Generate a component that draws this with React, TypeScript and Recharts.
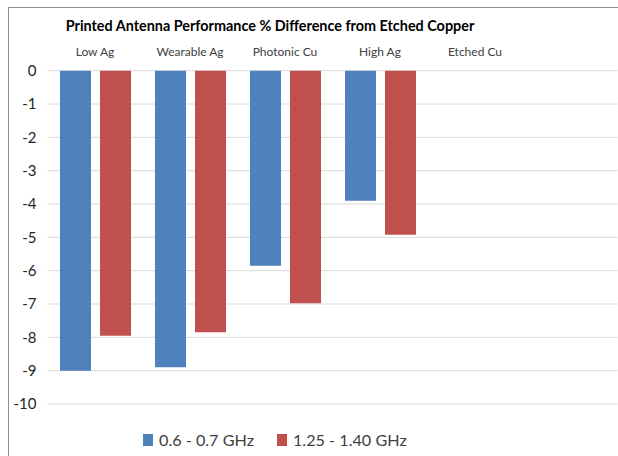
import React from "react";
import { BarChart, Bar, XAxis, YAxis, CartesianGrid, Legend } from "recharts";

const categories = ["Low Ag", "Wearable Ag", "Photonic Cu", "High Ag", "Etched Cu"];
const lowBand = [-9.0, -8.9, -5.85, -3.9, 0];
const highBand = [-7.95, -7.85, -6.98, -4.92, 0];
const yTicks = [0, -1, -2, -3, -4, -5, -6, -7, -8, -9, -10];
const seriesNames = ["0.6 - 0.7 GHz", "1.25 - 1.40 GHz"];
const seriesColors = ["#4F81BD", "#C0504D"];

const data = categories.map((c, i) => ({ name: c, low: lowBand[i], high: highBand[i] }));

const FONT = "Lato, 'Open Sans', sans-serif";

const LegendContent = () => (
  <div
    style={{
      height: 52,
      boxSizing: "border-box",
      paddingTop: 19,
      paddingLeft: 143,
      display: "flex",
      alignItems: "center",
      fontFamily: FONT,
      fontSize: 16.2,
      color: "#404040",
      lineHeight: "22px",
    }}
  >
    {seriesNames.map((n, i) => (
      <div key={n} style={{ display: "flex", alignItems: "center", marginRight: 23 }}>
        <div style={{ width: 10, height: 12, background: seriesColors[i], marginRight: 6 }} />
        <span>{n}</span>
      </div>
    ))}
  </div>
);

export default function App() {
  return (
    <div
      style={{
        position: "absolute",
        left: 0,
        top: 0,
        width: 618,
        height: 456,
        overflow: "hidden",
        background: "#fff",
      }}
    >
      <div
        style={{
          position: "absolute",
          left: 8,
          top: 7,
          width: 700,
          height: 600,
          borderLeft: "1px solid #8c8c8c",
          borderTop: "1px solid #8c8c8c",
        }}
      />
      <div
        style={{
          position: "absolute",
          left: 0,
          top: 15,
          width: 540,
          textAlign: "center",
          fontFamily: FONT,
          fontWeight: 700,
          fontSize: 14.4,
          color: "#000",
          lineHeight: "22px",
        }}
      >
        Printed Antenna Performance % Difference from Etched Copper
      </div>
      <div style={{ position: "absolute", left: 0, top: 0 }}>
        <BarChart
          width={620}
          height={456}
          data={data}
          margin={{ top: 40, right: 2.5, bottom: 0, left: 0 }}
          barCategoryGap={12.5}
          barGap={9}
        >
          <CartesianGrid vertical={false} stroke="#d9d9d9" strokeWidth={1} />
          <XAxis
            dataKey="name"
            orientation="top"
            height={30.7}
            axisLine={false}
            tickLine={false}
            tickSize={0}
            tickMargin={15}
            padding={{ left: 0, right: 95 }}
            interval={0}
            tick={{ fontSize: 12, fill: "#404040", fontFamily: FONT }}
          />
          <YAxis
            domain={[-10, 0]}
            ticks={yTicks}
            width={47.5}
            axisLine={false}
            tickLine={false}
            tickSize={0}
            tickMargin={11}
            interval={0}
            tick={{ fontSize: 15, fill: "#262626", fontFamily: FONT }}
          />
          <Legend verticalAlign="bottom" content={<LegendContent />} />
          <Bar dataKey="low" name={seriesNames[0]} fill={seriesColors[0]} isAnimationActive={false} />
          <Bar dataKey="high" name={seriesNames[1]} fill={seriesColors[1]} isAnimationActive={false} />
        </BarChart>
      </div>
    </div>
  );
}
